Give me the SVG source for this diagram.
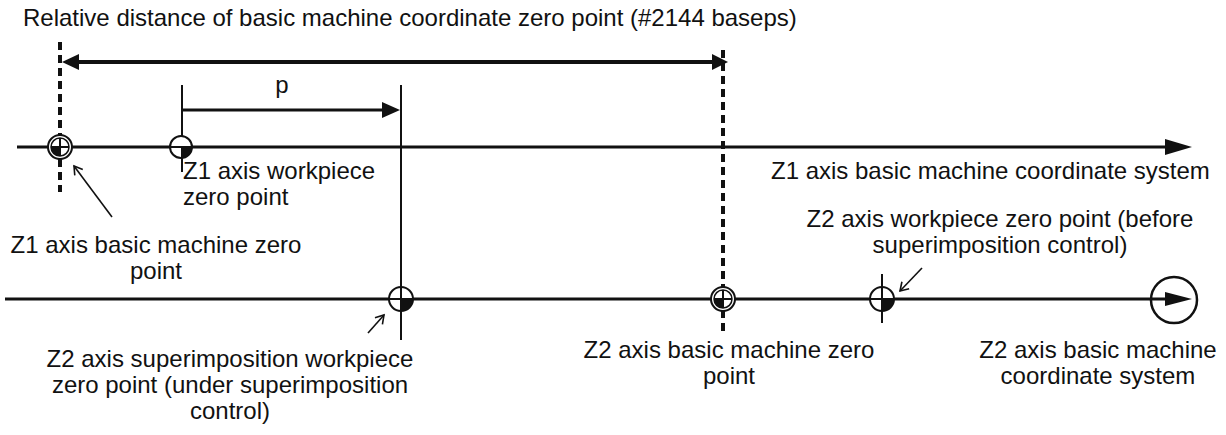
<svg xmlns="http://www.w3.org/2000/svg" width="1226" height="435" viewBox="0 0 1226 435">
<style>
text{font-family:"Liberation Sans",Arial,sans-serif;font-size:24px;fill:#111}
.m{text-anchor:middle}
.ax{stroke:#111;stroke-width:3;fill:none}
.tk{stroke:#111;stroke-width:2;fill:none}
.ds{stroke:#111;stroke-width:4;stroke-dasharray:8,5;fill:none}
.ld{stroke:#111;stroke-width:1.6;fill:none;marker-end:url(#open)}
.ci{fill:#fff;stroke:#111;stroke-width:2}
</style>
<defs>
<marker id="open" markerWidth="12" markerHeight="12" refX="10" refY="6" orient="auto" markerUnits="userSpaceOnUse">
<path d="M2,1 L10,6 L2,11" fill="none" stroke="#111" stroke-width="1.6"/>
</marker>
</defs>
<g id="connectors">
<line class="ax" x1="17" y1="147" x2="1168" y2="147"/>
<polygon points="1165,139 1192,147 1165,155" fill="#111"/>
<line class="ax" x1="5" y1="299" x2="1168" y2="299"/>
<polygon points="1165,292 1192,299 1165,306" fill="#111"/>
<line class="ds" x1="60" y1="42" x2="60" y2="192"/>
<line class="ds" x1="723" y1="50" x2="723" y2="336"/>
<line stroke="#111" stroke-width="4" x1="75" y1="62" x2="715" y2="62"/>
<polygon points="62,62 79,54 79,70" fill="#111"/>
<polygon points="728,62 712,54 712,70" fill="#111"/>
<line class="tk" x1="182" y1="85" x2="182" y2="172"/>
<line class="tk" x1="401" y1="85" x2="401" y2="340"/>
<line stroke="#111" stroke-width="3" x1="182" y1="110" x2="385" y2="110"/>
<polygon points="382,102 400,110 382,118" fill="#111"/>
<line class="tk" x1="882" y1="274" x2="882" y2="323"/>
<line class="ld" x1="112" y1="217" x2="74" y2="166"/>
<line class="ld" x1="368" y1="333" x2="384" y2="315"/>
<line class="ld" x1="922" y1="268" x2="900" y2="291"/>
</g>
<g id="z1-basic-zero">
<circle class="ci" cx="60" cy="147" r="12"/>
<circle cx="60" cy="147" r="9" fill="none" stroke="#111" stroke-width="1.5"/>
<path d="M60,147 L51,147 A9,9 0 0 0 60,156 Z" fill="#111"/>
<line class="tk" x1="51" y1="147" x2="69" y2="147"/>
<line class="tk" x1="60" y1="138" x2="60" y2="156"/>
</g>
<g id="z1-workpiece-zero">
<circle class="ci" cx="181" cy="147" r="11"/>
<path d="M181,147 L192,147 A11,11 0 0 1 181,158 Z" fill="#111"/>
<line class="tk" x1="170" y1="147" x2="192" y2="147"/>
</g>
<g id="z2-superimposition-zero">
<circle class="ci" cx="401" cy="299" r="12"/>
<path d="M401,299 L413,299 A12,12 0 0 1 401,311 Z" fill="#111"/>
<line class="tk" x1="389" y1="299" x2="413" y2="299"/>
<line class="tk" x1="401" y1="287" x2="401" y2="311"/>
</g>
<g id="z2-basic-zero">
<circle class="ci" cx="723" cy="299" r="12"/>
<circle cx="723" cy="299" r="9" fill="none" stroke="#111" stroke-width="1.5"/>
<path d="M723,299 L714,299 A9,9 0 0 0 723,308 Z" fill="#111"/>
<line class="tk" x1="714" y1="299" x2="732" y2="299"/>
<line class="tk" x1="723" y1="290" x2="723" y2="308"/>
</g>
<g id="z2-workpiece-zero">
<circle class="ci" cx="882" cy="299" r="12"/>
<path d="M882,299 L894,299 A12,12 0 0 1 882,311 Z" fill="#111"/>
<line class="tk" x1="870" y1="299" x2="894" y2="299"/>
<line class="tk" x1="882" y1="287" x2="882" y2="311"/>
</g>
<g id="z2-axis-end">
<circle cx="1174" cy="300" r="23" fill="none" stroke="#111" stroke-width="2.5"/>
</g>
<g id="labels">
<text x="23" y="26">Relative distance of basic machine coordinate zero point (#2144 baseps)</text>
<text class="m" x="282" y="93">p</text>
<text x="183" y="179">Z1 axis workpiece</text>
<text x="183" y="205">zero point</text>
<text x="771" y="179">Z1 axis basic machine coordinate system</text>
<text class="m" x="156" y="253">Z1 axis basic machine zero</text>
<text class="m" x="156" y="279">point</text>
<text class="m" x="1000" y="227">Z2 axis workpiece zero point (before</text>
<text class="m" x="1000" y="253">superimposition control)</text>
<text class="m" x="230" y="367">Z2 axis superimposition workpiece</text>
<text class="m" x="230" y="393">zero point (under superimposition</text>
<text class="m" x="230" y="419">control)</text>
<text class="m" x="729" y="358">Z2 axis basic machine zero</text>
<text class="m" x="729" y="384">point</text>
<text class="m" x="1098" y="358">Z2 axis basic machine</text>
<text class="m" x="1098" y="384">coordinate system</text>
</g>
</svg>
